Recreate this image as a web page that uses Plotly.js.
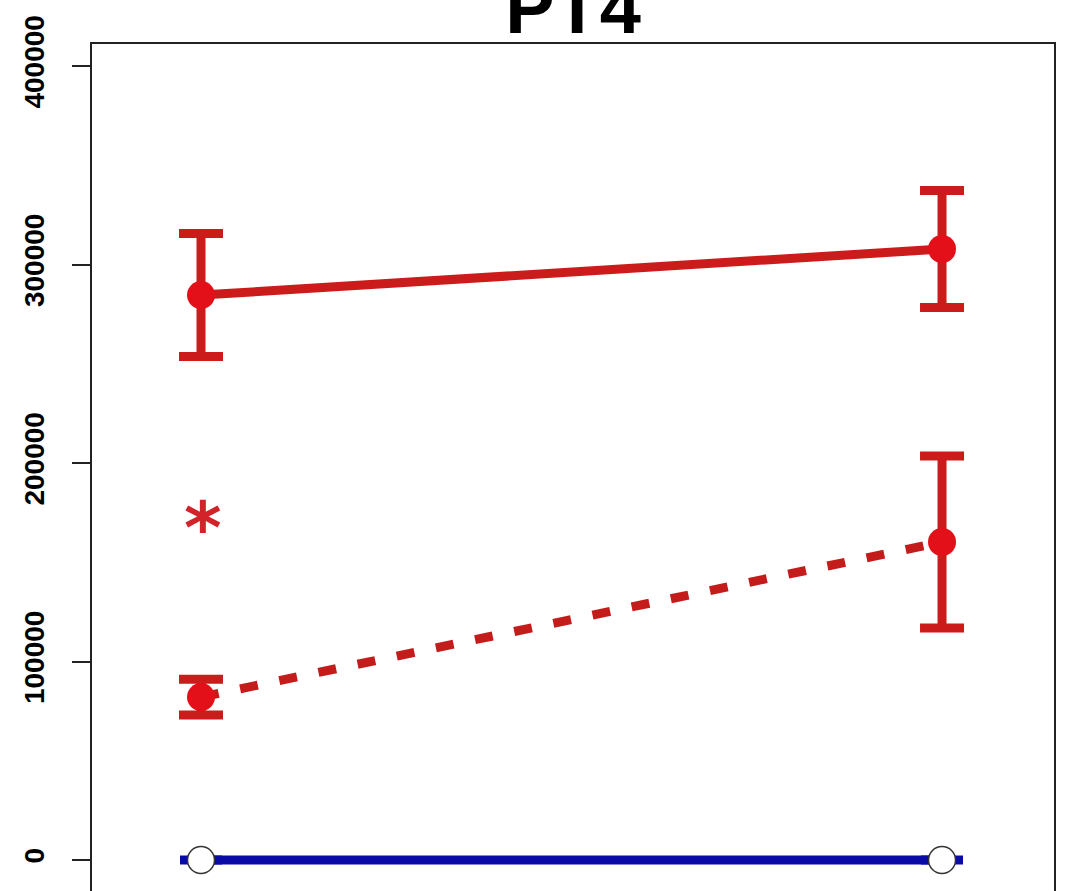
<!DOCTYPE html>
<html>
<head>
<meta charset="utf-8">
<script src="https://cdn.plot.ly/plotly-3.0.1.min.js"></script>
<style>html,body{margin:0;padding:0;overflow:hidden;background:#fff;}#chart{width:1069px;height:891px;}</style>
</head>
<body>
<div id="chart"></div>
<script>
// Data
const timepoints = [1, 2];
const solidMeans = [284600, 307800];
const solidErr = [31000, 29500];
const dashedMeans = [82100, 160200];
const dashedErr = [9000, 43300];
const baseMeans = [0, 0];
const baseErr = [0, 0];
const starX = [1];
const starY = [172800];
const yTickVals = [0, 100000, 200000, 300000, 400000];
const yTickText = ["0", "100000", "200000", "300000", "400000"];
const chartTitle = "PT4";

const lineRed = "#CB1B1B";
const markRed = "#E3101A";
const blue = "#0A0AA6";

const traces = [
  {
    x: timepoints, y: baseMeans, mode: "lines+markers", type: "scatter",
    line: {color: blue, width: 9},
    error_y: {type: "data", array: baseErr, visible: true, color: blue, thickness: 9, width: 21},
    marker: {size: 27, color: "#ffffff", line: {color: "#333333", width: 1.5}},
    hoverinfo: "skip"
  },
  {
    x: timepoints, y: dashedMeans, mode: "lines+markers", type: "scatter",
    line: {color: "#C41B1B", width: 9, dash: "18px,22px"},
    error_y: {type: "data", array: dashedErr, visible: true, color: lineRed, thickness: 9, width: 22},
    marker: {size: 28, color: markRed},
    hoverinfo: "skip"
  },
  {
    x: timepoints, y: solidMeans, mode: "lines+markers", type: "scatter",
    line: {color: lineRed, width: 9},
    error_y: {type: "data", array: solidErr, visible: true, color: lineRed, thickness: 9, width: 22},
    marker: {size: 28, color: markRed},
    hoverinfo: "skip"
  }
];

const layout = {
  width: 1069, height: 891,
  margin: {l: 92, r: 15, t: 44, b: 0, pad: 0},
  paper_bgcolor: "#ffffff", plot_bgcolor: "#ffffff",
  showlegend: false,
  font: {family: "Liberation Sans, Arial, sans-serif", color: "#000000"},
  title: {
    text: "<b>" + chartTitle + "</b>",
    font: {size: 74, family: "Liberation Sans, Arial, sans-serif", color: "#000"},
    x: 0.5, xref: "paper", xanchor: "center",
    y: 1, yref: "paper", yanchor: "bottom", pad: {b: 11}
  },
  xaxis: {
    range: [0.8529, 2.1511], showgrid: false, zeroline: false,
    showticklabels: false, ticks: "", showline: true, side: "top",
    linecolor: "#222", linewidth: 2, fixedrange: true
  },
  yaxis: {
    range: [-15617, 411083], showgrid: false, zeroline: false,
    tickvals: yTickVals, ticktext: yTickText,
    ticks: "outside", ticklen: 18, tickwidth: 2, tickcolor: "#222",
    tickangle: -90, ticklabelstandoff: 17,
    tickfont: {size: 28, family: "Liberation Sans, Arial, sans-serif", weight: "bold", color: "#000"},
    showline: true, mirror: true, linecolor: "#222", linewidth: 2, fixedrange: true
  },
  annotations: starX.map((sx, i) => ({
    x: sx, y: starY[i], xref: "x", yref: "y", text: "<b>*</b>", showarrow: false,
    font: {size: 72, color: "#D3232A", family: "DejaVu Sans, sans-serif"},
    xanchor: "center", yanchor: "middle", yshift: -11, xshift: 2
  }))
};

Plotly.newPlot("chart", traces, layout, {staticPlot: true, displayModeBar: false});
</script>
</body>
</html>
